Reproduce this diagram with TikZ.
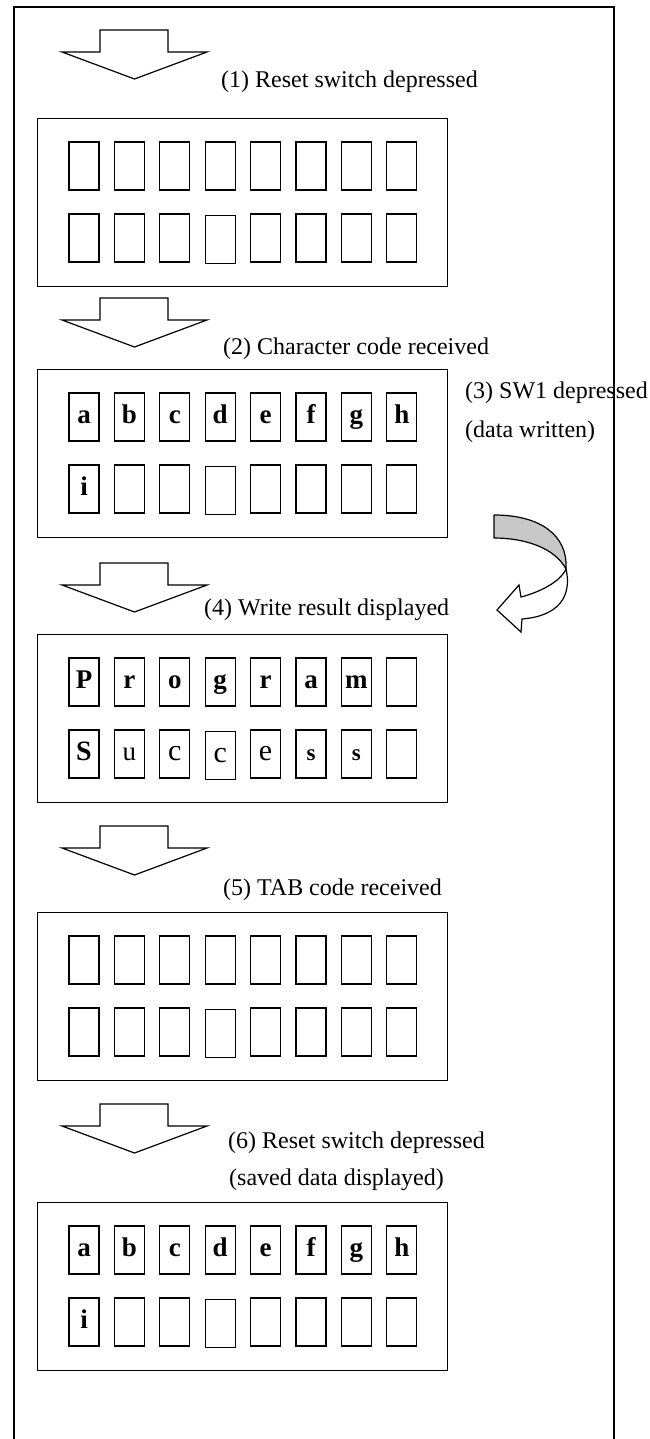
\documentclass[tikz,border=0pt]{standalone}
\usepackage{fontspec}
\setmainfont{Liberation Serif}
\newcommand\cellbf{\fontsize{27}{30}\selectfont\bfseries}
\newcommand\cellmd[2]{{\fontsize{#1}{#1}\selectfont\mdseries #2}}
\newcommand\cellbig[2]{{\fontsize{#1}{#1}\selectfont\bfseries #2}}
\tikzset{
  frameline/.style={line width=1.3pt},
  panel/.style={draw, line width=1.3pt, minimum width=410pt, minimum height=168pt, inner sep=0pt, anchor=north west},
  cell/.style={draw, line width=1.2pt, minimum width=30pt, minimum height=48pt, inner sep=0pt, text height=18pt, text depth=5pt, font=\cellbf},
  blockarrow/.style={draw, line width=1.2pt, fill=white, line join=miter},
  lbl/.style={anchor=west, inner sep=0pt, font=\fontsize{24}{28}\selectfont},
  twistgray/.style={draw, line width=1.2pt, fill=black!22, line join=round},
  twistwhite/.style={draw, line width=1.2pt, fill=white, line join=miter},
}
\newcommand\cellrow[4]{%
  \foreach \ctext [count=\ci from 0] in {#3} {
    \pgfmathsetmacro\cdy{\ci==3 ? #4 : 0}
    \node[cell] (#1c\ci) at ({84+45.4*\ci},{#2+24+\cdy}) {\ctext};
  }}
\newcommand\displaypanel[4]{%
  \node[panel] (#1) at (37,#2) {};
  \cellrow{#1r1}{#2+24}{#3}{0}
  \cellrow{#1r2}{#2+96}{#4}{1.5}}
\newcommand\blockdown[2]{%
  \draw[blockarrow] (100,#2) -- (168,#2) -- (168,#2+22) -- (207,#2+22) -- (134.5,#2+49) -- (62,#2+22) -- (100,#2+22) -- cycle;
  \coordinate (#1) at (134.5,#2+49);}
\begin{document}
\begin{tikzpicture}[x=1pt,y=-1pt]
\useasboundingbox (0,0) rectangle (649,1439);
% outer frame (open at the bottom)
\draw[frameline] (14,1439) -- (14,7) -- (614,7) -- (614,1439);

% step 1
\blockdown{a1}{30}
\node[lbl] (l1) at (221,82) {(1) Reset switch depressed};
\displaypanel{p1}{118}{{},{},{},{},{},{},{},{}}{{},{},{},{},{},{},{},{}}

% step 2
\blockdown{a2}{298}
\node[lbl] (l2) at (223,349) {(2) Character code received};
\displaypanel{p2}{369}{a,b,c,d,e,f,g,h}{i,{},{},{},{},{},{},{}}

% step 3
\node[lbl] (l3a) at (465,393) {(3) SW1 depressed};
\node[lbl] (l3b) at (465,432) {(data written)};
\draw[twistgray] (494,515) .. controls (540,515) and (568,535) .. (566,569)
  .. controls (555,548) and (525,538) .. (494,538) -- cycle;
\draw[twistwhite] (566,569) .. controls (572,595) and (560,616) .. (522,619)
  -- (521,632) -- (497,610) -- (519,585) -- (521,597)
  .. controls (540,592) and (560,582) .. (566,569) -- cycle;

% step 4
\blockdown{a3}{563}
\node[lbl] (l4) at (204,610) {(4) Write result displayed};
\displaypanel{p3}{634}{P,r,o,g,r,a,m,{}}{\cellbig{28}{S},\cellmd{27}{u},\cellmd{30}{c},\cellmd{30}{c},\cellmd{30}{e},\cellbig{23}{s},\cellbig{23}{s},{}}

% step 5
\blockdown{a4}{826}
\node[lbl] (l5) at (223,890) {(5) TAB code received};
\displaypanel{p4}{912}{{},{},{},{},{},{},{},{}}{{},{},{},{},{},{},{},{}}

% step 6
\blockdown{a5}{1104}
\node[lbl] (l6a) at (228,1143) {(6) Reset switch depressed};
\node[lbl] (l6b) at (229,1180) {(saved data displayed)};
\displaypanel{p6}{1202}{a,b,c,d,e,f,g,h}{i,{},{},{},{},{},{},{}}
\end{tikzpicture}
\end{document}
